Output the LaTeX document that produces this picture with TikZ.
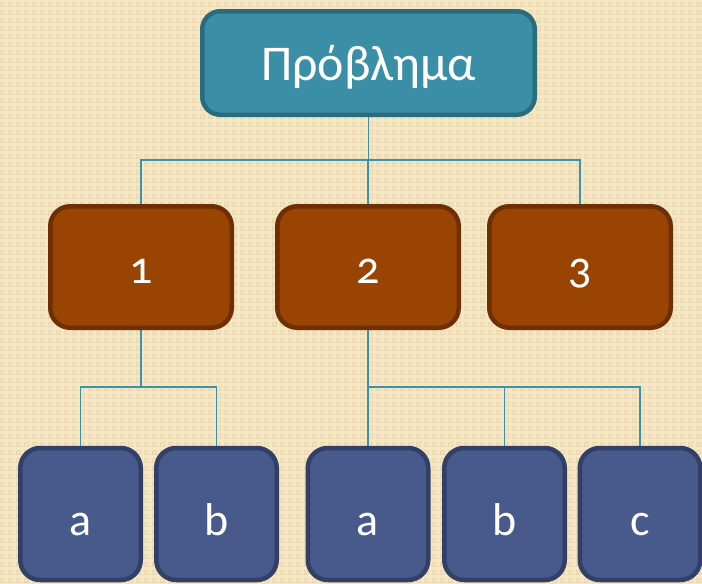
\documentclass[tikz,border=0pt]{standalone}
\usepackage{fontspec}
\usetikzlibrary{patterns,backgrounds}
\setmainfont{Carlito}[Numbers=OldStyle]
\definecolor{bgc}{HTML}{F5E7C4}
\definecolor{bgdot}{HTML}{EAD9B0}
\definecolor{topfill}{HTML}{3A8FA7}
\definecolor{topdraw}{HTML}{2A6B7E}
\definecolor{brfill}{HTML}{9A4403}
\definecolor{brdraw}{HTML}{6E2E06}
\definecolor{blfill}{HTML}{475A8B}
\definecolor{bldraw}{HTML}{323F66}
\definecolor{conn}{HTML}{3C92AA}
\pgfdeclarelayer{bglayer}
\pgfsetlayers{bglayer,background,main}
\pgfdeclarepatternformonly{bgsquares}{\pgfpoint{0pt}{0pt}}{\pgfpoint{8pt}{8pt}}{\pgfpoint{8pt}{8pt}}{%
  \pgfsetlinewidth{1.2pt}%
  \pgfpathrectangle{\pgfpoint{2pt}{2pt}}{\pgfpoint{4pt}{4pt}}%
  \pgfusepath{stroke}%
}
\tikzset{
  box/.style={rectangle, line width=4.5pt, text=white, inner sep=0pt},
  topbox/.style={box, fill=topfill, draw=topdraw, rounded corners=18pt, minimum width=332.5pt, minimum height=103.5pt,
    font=\fontsize{50}{54}\selectfont, text height=34pt, text depth=0pt},
  midbox/.style={box, fill=brfill, draw=brdraw, rounded corners=20pt, minimum width=181.5pt, minimum height=121.5pt,
    font=\fontsize{46}{50}\selectfont, text height=32pt, text depth=0pt},
  lowbox/.style={box, fill=blfill, draw=bldraw, rounded corners=20pt, minimum width=120.5pt, minimum height=132pt,
    font=\fontsize{46}{50}\selectfont, text height=42pt, text depth=0pt},
  link/.style={draw=conn, line width=1.8pt}
}
\begin{document}
\begin{tikzpicture}[x=1pt,y=-1pt]
\begin{pgfonlayer}{bglayer}
\fill[bgc] (0,0) rectangle (702,584);
\fill[pattern=bgsquares, pattern color=bgdot] (0,0) rectangle (702,584);
\end{pgfonlayer}
\useasboundingbox (0,0) rectangle (702,584);
\node[topbox] (top) at (368.5,63) {Πρόβλημα};
\node[midbox] (m1) at (141,267) {1};
\node[midbox] (m2) at (368,267) {2};
\node[midbox] (m3) at (580,267) {3};
\node[lowbox] (a1) at (80.5,514) {a};
\node[lowbox] (b1) at (216.5,514) {b};
\node[lowbox] (a2) at (368,514) {a};
\node[lowbox] (b2) at (504.5,514) {b};
\node[lowbox] (c2) at (640,514) {c};
\coordinate (j0) at (368.5,160);
\coordinate (j1) at (141,387);
\coordinate (j2) at (368,387);
\begin{pgfonlayer}{background}
\draw[link] (top.center) -- (j0);
\draw[link] (j0) -| (m1.center);
\draw[link] (j0) -| (m2.center);
\draw[link] (j0) -| (m3.center);
\draw[link] (m1.center) -- (j1);
\draw[link] (j1) -| (a1.center);
\draw[link] (j1) -| (b1.center);
\draw[link] (m2.center) -- (j2);
\draw[link] (j2) -| (a2.center);
\draw[link] (j2) -| (b2.center);
\draw[link] (j2) -| (c2.center);
\end{pgfonlayer}
\end{tikzpicture}
\end{document}
